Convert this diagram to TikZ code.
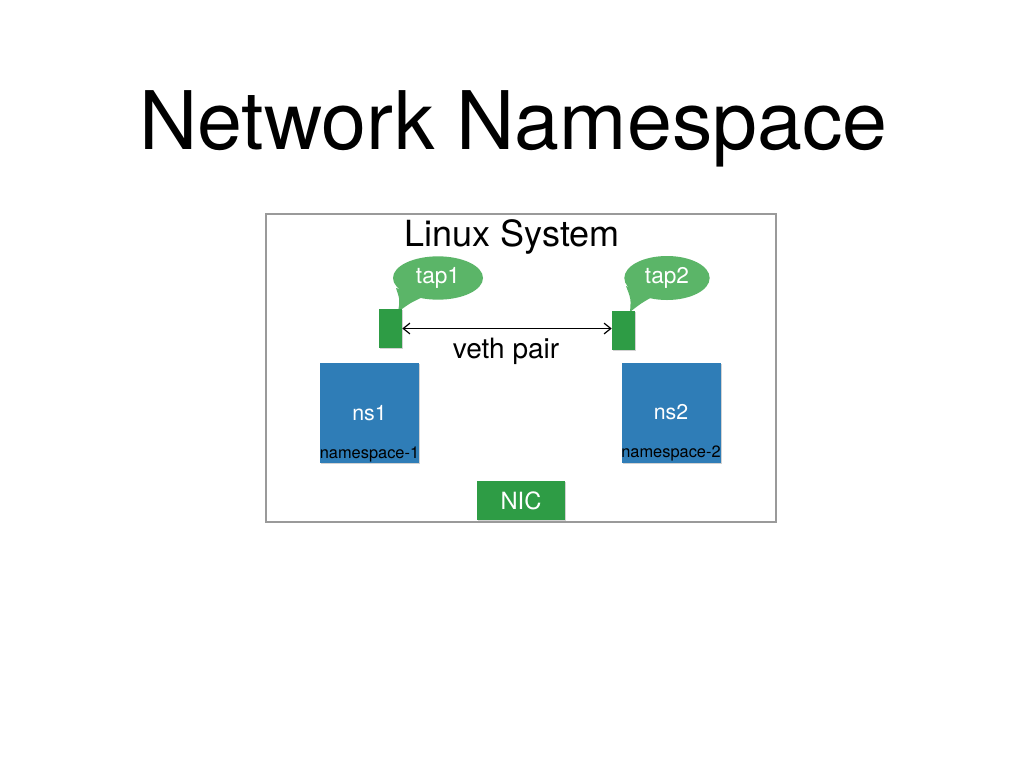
\documentclass[tikz,border=0pt]{standalone}
\usepackage{fontspec}
\setmainfont{TeX Gyre Heros}
\usetikzlibrary{shapes.geometric,arrows.meta,shadows}
\definecolor{nsblue}{HTML}{2F7DB7}
\definecolor{tapgreen}{HTML}{2E9C45}
\definecolor{bubblegreen}{HTML}{5BB568}
\definecolor{framegray}{HTML}{9A9A9A}
\tikzset{
  shad/.style={drop shadow={shadow xshift=0.8pt,shadow yshift=-0.8pt,opacity=0.35}},
  port/.style={fill=tapgreen,minimum width=17.25pt,minimum height=29.25pt,inner sep=0pt,shad},
  nsbox/.style={fill=nsblue,minimum width=74.25pt,minimum height=75pt,inner sep=0pt,shad,
     text=white,font=\fontsize{16}{19}\selectfont},
  nslabel/.style={anchor=south,inner sep=1pt,font=\fontsize{12.3}{14}\selectfont,text=black},
  bubble/.style={ellipse,fill=bubblegreen,inner sep=0pt,text=white,font=\fontsize{17}{20}\selectfont},
  tail/.style={fill=bubblegreen},
  link/.style={{Straight Barb[length=5pt,width=8pt]}-{Straight Barb[length=5pt,width=8pt]},line width=0.9pt}
}
\begin{document}
\begin{tikzpicture}[x=0.75pt,y=-0.75pt]
\useasboundingbox (0,0) rectangle (1024,768);
\fill[white] (0,0) rectangle (1024,768);
\node[font=\fontsize{60.6}{68}\selectfont,inner sep=0pt] (title) at (513.5,129) {Network Namespace};
\node[draw=framegray,line width=1.5pt,minimum width=382.5pt,minimum height=231pt,inner sep=0pt] (sys) at (521,368) {};
\node[font=\fontsize{27}{31}\selectfont,inner sep=0pt] (syslbl) at (512,236.5) {Linux System};
% bubbles
\fill[tail] (396,288) .. controls (400,300) .. (398,312) .. controls (410,303) .. (425,296) -- cycle;
\node[bubble,minimum width=67.5pt,minimum height=32.5pt] (tap1) at (438,278) {tap1};
\fill[tail] (626,286) .. controls (631,299) .. (630,312) .. controls (640,304) .. (652,297) -- cycle;
\node[bubble,minimum width=64pt,minimum height=33pt] (tap2) at (667,278) {tap2};
% ports
\node[port] (p1) at (390.5,328.5) {};
\node[port] (p2) at (623.5,330) {};
\draw[link] (p1.east) -- (p1.east -| p2.west);
\node[font=\fontsize{21}{25}\selectfont] (veth) at (506,351) {veth pair};
% namespaces
\node[nsbox] (ns1) at (369.5,413) {ns1};
\node[nslabel] (ns1lbl) at (ns1.south) {namespace-1};
\node[nsbox] (ns2) at (671,412.5) {ns2};
\node[nslabel] (ns2lbl) at (ns2.south) {namespace-2};
% NIC
\node[fill=tapgreen,minimum width=66pt,minimum height=29.25pt,inner sep=0pt,shad,text=white,font=\fontsize{17.8}{21}\selectfont] (nic) at (521,500.5) {NIC};
\end{tikzpicture}
\end{document}
